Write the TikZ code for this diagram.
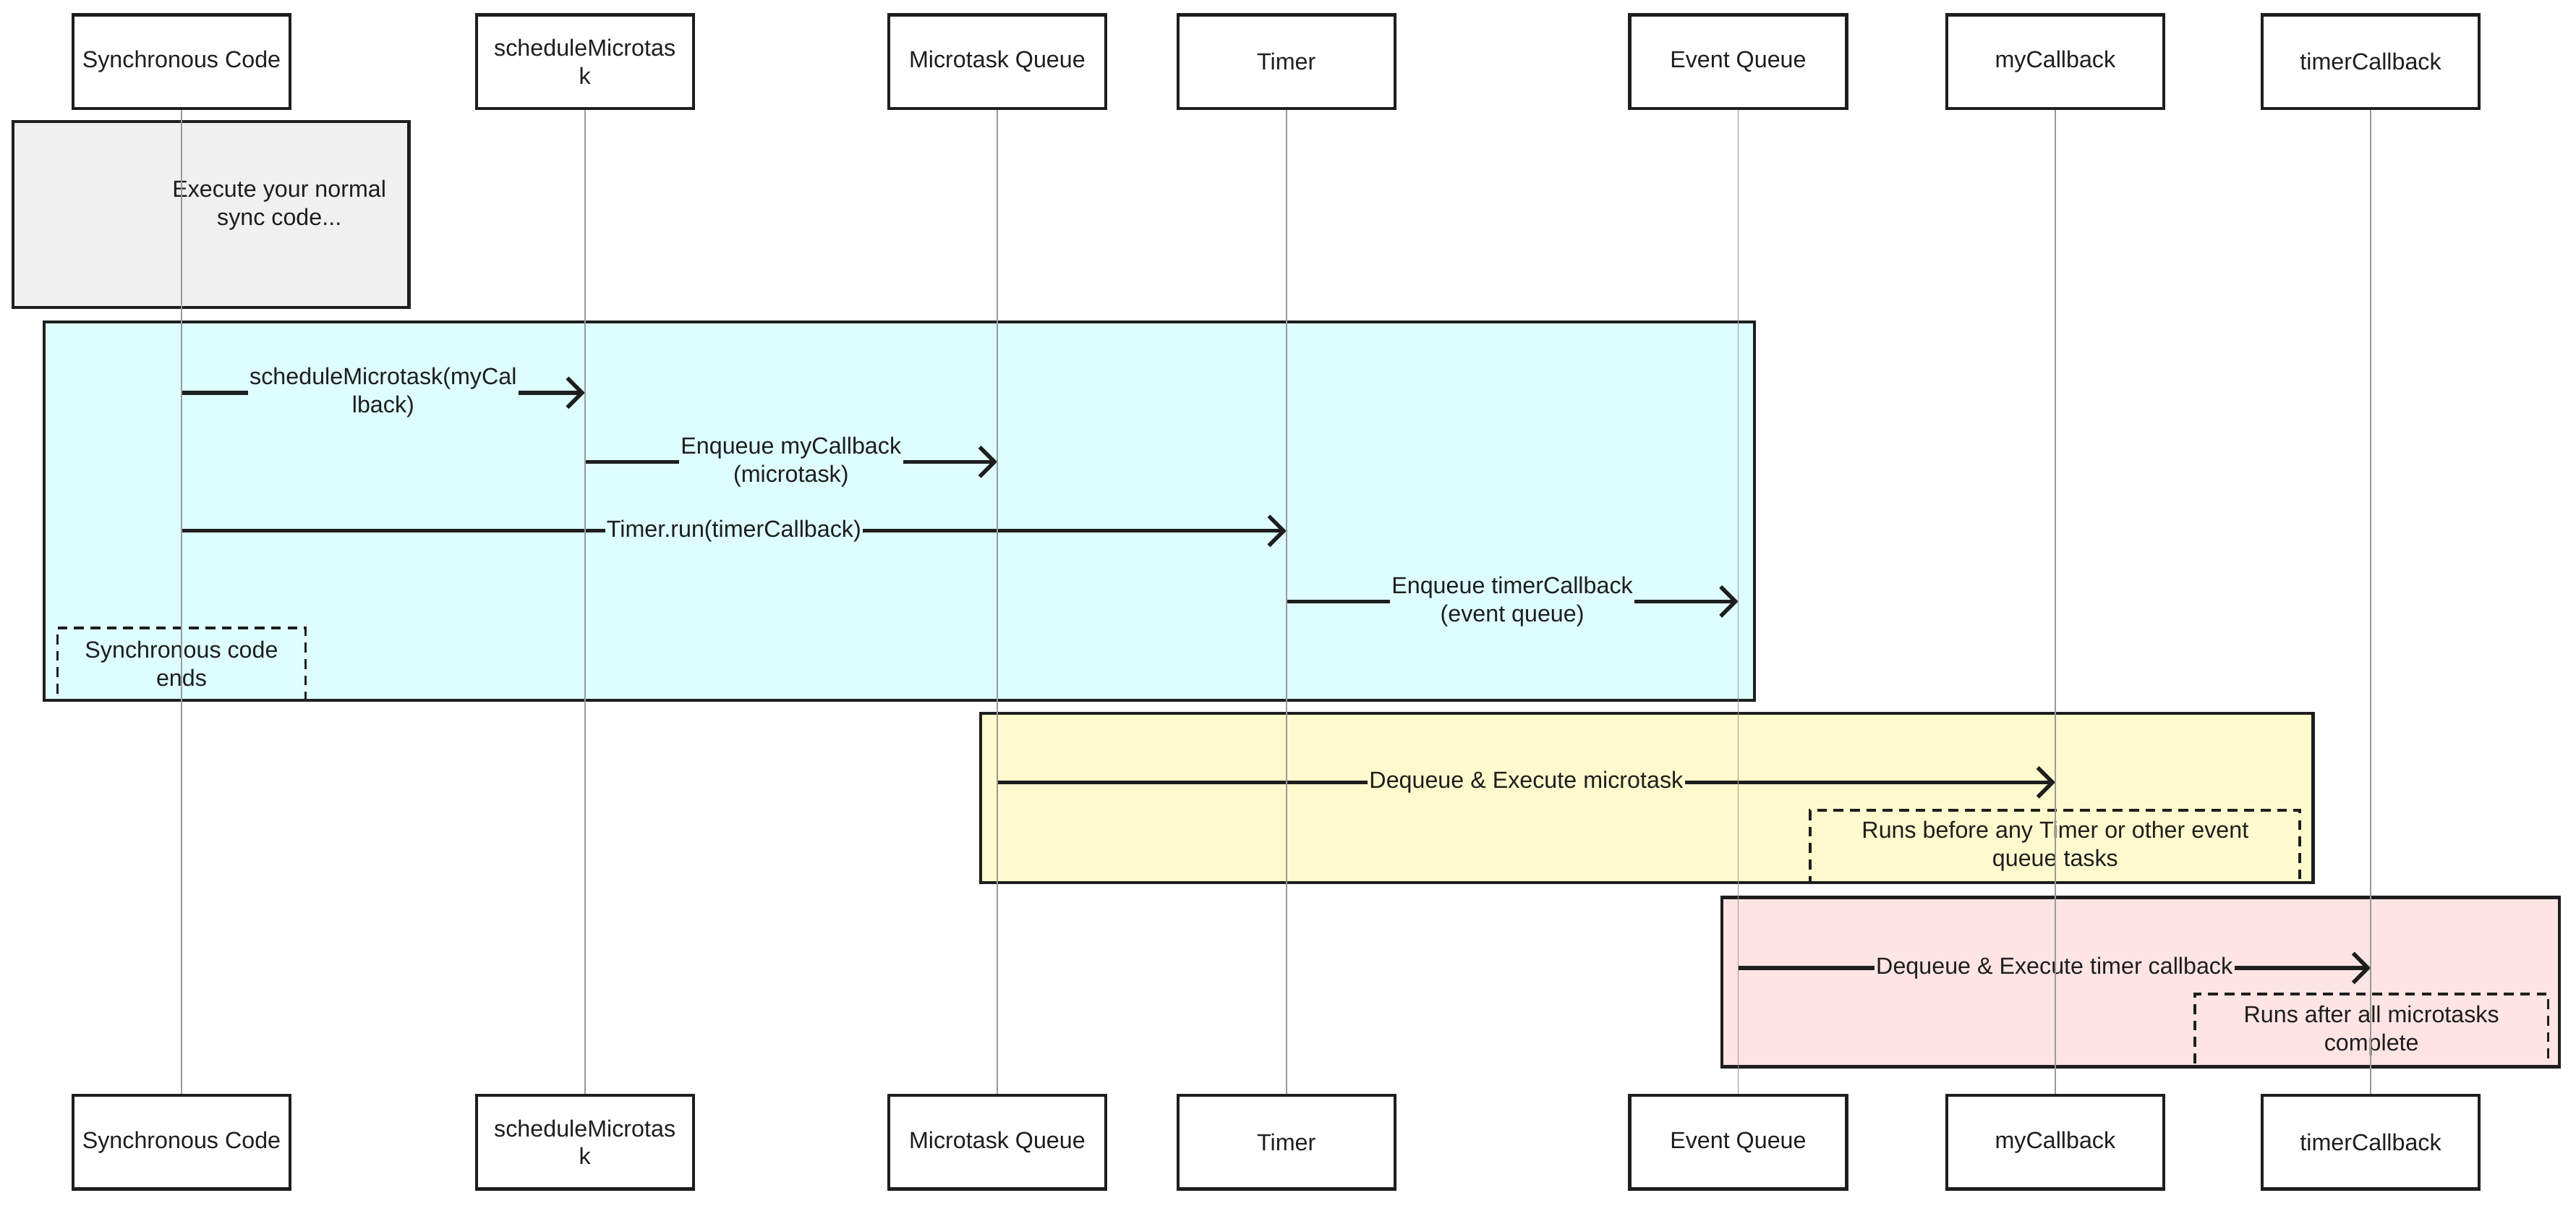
\documentclass[tikz,border=0pt]{standalone}
\usepackage{fontspec}
\setmainfont{Liberation Sans}
\usetikzlibrary{arrows.meta}
\definecolor{cyanbg}{HTML}{DEFDFE}
\definecolor{yellowbg}{HTML}{FFFACD}
\definecolor{pinkbg}{HTML}{FFE4E4}
\definecolor{graybg}{HTML}{F0F0F0}
\definecolor{ink}{HTML}{1E1E1E}
\definecolor{lifegray}{HTML}{9A9A9A}
\newcommand\myfs{\fontsize{14.2}{17}\selectfont}
\begin{document}
\begin{tikzpicture}[x=1pt,y=-1pt,
  actor/.style={draw=ink,line width=1.9pt,fill=white,minimum width=132pt,minimum height=57pt,align=center,inner sep=2pt,font=\myfs,text=ink},
  region/.style={draw=ink,line width=1.9pt},
  notebox/.style={draw=ink,line width=1.7pt,dash pattern=on 6pt off 4pt,align=center,inner sep=0pt,font=\myfs,text=ink},
  txt/.style={align=center,font=\myfs,text=ink,inner sep=0pt},
  msg/.style={draw=ink,line width=2.4pt,-{Straight Barb[length=9pt,width=18pt,line width=2.4pt]}},
  lbl/.style={align=center,font=\myfs,text=ink,inner sep=1pt},
  lifeline/.style={draw=lifegray,line width=0.8pt}]
\useasboundingbox (0,0) rectangle (1568,733.4);
% regions
\draw[region,fill=graybg] (8,74) rectangle (249,187);
\node[txt] (n0) at (170,125) {Execute your normal\\sync code...};
\draw[region,fill=cyanbg] (27,196) rectangle (1068,426);
\draw[region,fill=yellowbg] (597,434) rectangle (1408,537);
\draw[region,fill=pinkbg] (1048,546) rectangle (1558,649);
% participants (top)
\node[actor] (a1) at (110.5,37.5) {Synchronous Code};
\node[actor] (a2) at (356,37.5) {scheduleMicrotas\\k};
\node[actor] (a3) at (607,37.5) {Microtask Queue};
\node[actor] (a4) at (783,37.5) {Timer};
\node[actor] (a5) at (1058,37.5) {Event Queue};
\node[actor] (a6) at (1251,37.5) {myCallback};
\node[actor] (a7) at (1443,37.5) {timerCallback};
% participants (bottom)
\node[actor] (b1) at (110.5,695) {Synchronous Code};
\node[actor] (b2) at (356,695) {scheduleMicrotas\\k};
\node[actor] (b3) at (607,695) {Microtask Queue};
\node[actor] (b4) at (783,695) {Timer};
\node[actor] (b5) at (1058,695) {Event Queue};
\node[actor] (b6) at (1251,695) {myCallback};
\node[actor] (b7) at (1443,695) {timerCallback};
% notes
\node[notebox,minimum width=151pt,minimum height=44pt] (n1) at (110.5,404) {Synchronous code\\ends};
\node[notebox,minimum width=298pt,minimum height=44pt] (n2) at (1251,515) {Runs before any Timer or other event\\queue tasks};
\node[notebox,minimum width=215pt,minimum height=44pt] (n3) at (1443.5,627) {Runs after all microtasks\\complete};
% messages
\draw[msg] (a1 |- 0,239) -- node[lbl,fill=cyanbg] (m1) {scheduleMicrotask(myCal\\lback)} (a2 |- 0,239);
\draw[msg] (a2 |- 0,281) -- node[lbl,fill=cyanbg] (m2) {Enqueue myCallback\\(microtask)} (a3 |- 0,281);
\draw[msg] (a1 |- 0,323) -- node[lbl,fill=cyanbg] (m3) {Timer.run(timerCallback)} (a4 |- 0,323);
\draw[msg] (a4 |- 0,366) -- node[lbl,fill=cyanbg] (m4) {Enqueue timerCallback\\(event queue)} (a5 |- 0,366);
\draw[msg] (a3 |- 0,476) -- node[lbl,fill=yellowbg] (m5) {Dequeue \& Execute microtask} (a6 |- 0,476);
\draw[msg] (a5 |- 0,589) -- node[lbl,fill=pinkbg] (m6) {Dequeue \& Execute timer callback} (a7 |- 0,589);
% lifelines
\draw[lifeline] (a1.south) -- (b1.north);
\draw[lifeline] (a2.south) -- (b2.north);
\draw[lifeline] (a3.south) -- (b3.north);
\draw[lifeline] (a4.south) -- (b4.north);
\draw[lifeline] (a5.south) -- (b5.north);
\draw[lifeline] (a6.south) -- (b6.north);
\draw[lifeline] (a7.south) -- (b7.north);
\end{tikzpicture}
\end{document}
